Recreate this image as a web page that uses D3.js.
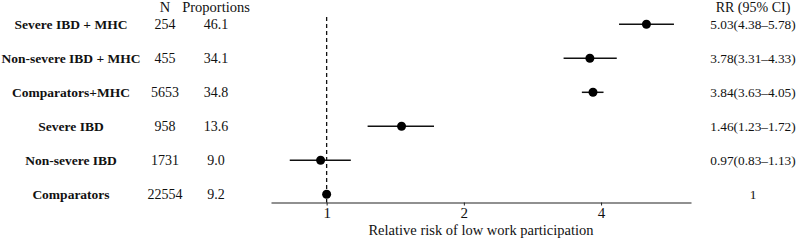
<!DOCTYPE html>
<html>
<head>
<meta charset="utf-8">
<script src="https://cdn.jsdelivr.net/npm/d3@7/dist/d3.min.js"></script>
<style>
body { margin: 0; background: #fff; }
svg text { font-family: "Liberation Serif", "DejaVu Serif", serif; fill: #111; }
</style>
</head>
<body>
<div id="chart"></div>
<script>
var groups = ["Severe IBD + MHC", "Non-severe IBD + MHC", "Comparators+MHC", "Severe IBD", "Non-severe IBD", "Comparators"];
var counts = ["254", "455", "5653", "958", "1731", "22554"];
var proportions = ["46.1", "34.1", "34.8", "13.6", "9.0", "9.2"];
var rr = [5.03, 3.78, 3.84, 1.46, 0.97, 1];
var lower = [4.38, 3.31, 3.63, 1.23, 0.83, 1];
var upper = [5.78, 4.33, 4.05, 1.72, 1.13, 1];
var rrLabels = ["5.03(4.38\u20135.78)", "3.78(3.31\u20134.33)", "3.84(3.63\u20134.05)", "1.46(1.23\u20131.72)", "0.97(0.83\u20131.13)", "1"];
var ticks = [1, 2, 4];

var w = 800, h = 240;

var svg = d3.select("#chart").append("svg")
    .attr("width", w)
    .attr("height", h);

//log scale for relative risk
var x = d3.scaleLog()
    .domain([0.755, 6.3])
    .range([271, 691]);

var y = d3.scaleBand()
    .domain(groups)
    .range([7.3, 211.3]);

function cy(d) { return y(d) + y.bandwidth() / 2; }

//axis
var axisY = 202.5;
var axis = svg.append("g")
    .attr("transform", "translate(0," + axisY + ")")
    .call(d3.axisBottom(x).tickValues(ticks).tickFormat(d3.format("d")).tickSize(3).tickSizeOuter(0));
axis.attr("font-family", null);
axis.select(".domain").attr("stroke", "#222").attr("stroke-width", 1.2);
axis.selectAll(".tick line").attr("stroke", "#222");
axis.selectAll(".tick text")
    .attr("font-size", 15)
    .attr("dy", "0.6em")
    .attr("fill", "#222");

svg.append("text")
    .attr("x", 481)
    .attr("y", 235)
    .attr("text-anchor", "middle")
    .attr("font-size", 14.5)
    .text("Relative risk of low work participation");

//reference line at 1
svg.append("line")
    .attr("x1", x(1)).attr("x2", x(1))
    .attr("y1", 17).attr("y2", axisY)
    .attr("stroke", "#111")
    .attr("stroke-width", 1.3)
    .attr("stroke-dasharray", "4,3");

//CI lines and points
svg.append("g").selectAll("line")
    .data(groups)
    .join("line")
    .attr("x1", function(d, i) { return x(lower[i]); })
    .attr("x2", function(d, i) { return x(upper[i]); })
    .attr("y1", cy).attr("y2", cy)
    .attr("stroke", "#111")
    .attr("stroke-width", 1.5);

svg.append("g").selectAll("circle")
    .data(groups)
    .join("circle")
    .attr("cx", function(d, i) { return x(rr[i]); })
    .attr("cy", cy)
    .attr("r", 4.5)
    .attr("fill", "#000");

//headers
svg.append("text").attr("x", 165).attr("y", 12).attr("text-anchor", "middle").attr("font-size", 14.5).text("N");
svg.append("text").attr("x", 216).attr("y", 12).attr("text-anchor", "middle").attr("font-size", 14.5).text("Proportions");
svg.append("text").attr("x", 753).attr("y", 12).attr("text-anchor", "middle").attr("font-size", 14).text("RR (95% CI)");

//table columns
var rows = svg.append("g").selectAll("g")
    .data(groups)
    .join("g")
    .attr("transform", function(d) { return "translate(0," + (cy(d) + 4.8) + ")"; });

rows.append("text")
    .attr("x", 71)
    .attr("text-anchor", "middle")
    .attr("font-size", 13.5)
    .attr("font-weight", "bold")
    .text(function(d) { return d; });

rows.append("text")
    .attr("x", 165)
    .attr("text-anchor", "middle")
    .attr("font-size", 14)
    .text(function(d, i) { return counts[i]; });

rows.append("text")
    .attr("x", 216)
    .attr("text-anchor", "middle")
    .attr("font-size", 14)
    .text(function(d, i) { return proportions[i]; });

rows.append("text")
    .attr("x", 753)
    .attr("text-anchor", "middle")
    .attr("font-size", 13.3)
    .text(function(d, i) { return rrLabels[i]; });
</script>
</body>
</html>
